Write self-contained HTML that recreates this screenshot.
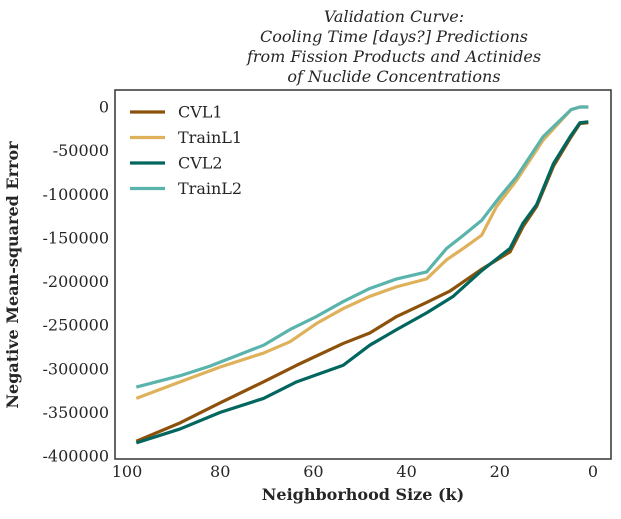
<!DOCTYPE html>
<html><head><meta charset="utf-8"><style>
body{margin:0;background:#fff}
svg text{font-family:"DejaVu Serif","Liberation Serif",serif;fill:#262626}
</style></head><body>
<svg id="chart" width="621" height="514" xmlns="http://www.w3.org/2000/svg">
<g font-style="italic" font-size="16" text-anchor="middle">
<text x="394" y="22">Validation Curve:</text>
<text x="394" y="42">Cooling Time [days?] Predictions</text>
<text x="394" y="62">from Fission Products and Actinides</text>
<text x="394" y="82">of Nuclide Concentrations</text>
</g>
<g id="series"></g>
<rect x="115" y="90" width="496" height="369" fill="none" stroke="#333" stroke-width="1.5"/>
<g id="ticks" font-size="16"></g>
<text x="363" y="500" text-anchor="middle" font-size="16" font-weight="bold">Neighborhood Size (k)</text>
<text transform="translate(18,275) rotate(-90)" text-anchor="middle" font-size="16" font-weight="bold">Negative Mean-squared Error</text>
<g id="legend" font-size="16"></g>
</svg>
<script>
const xTicks=[100,80,60,40,20,0];
const yTicks=[0,-50000,-100000,-150000,-200000,-250000,-300000,-350000,-400000];
const seriesNames=["CVL1","TrainL1","CVL2","TrainL2"];
const seriesColors=["#8c510a","#dfb15b","#01665e","#5ab4ac"];
const kCVL1=[98,88.6,80,70.7,63.6,53.6,47.9,42.1,35.7,30.7,24.2,17.8,15,12.1,8.5,4.9,2.8,1];
const vCVL1=[-383000,-362000,-339000,-315000,-296000,-271000,-259000,-240000,-224000,-211000,-187000,-166000,-137000,-114000,-68000,-36000,-19000,-18000];
const kTrainL1=[98,88.6,80,70.7,65,59.3,53.6,47.9,42.1,35.7,31.4,27.8,23.9,20.7,16.4,10.7,4.7,2.8,1];
const vTrainL1=[-334000,-315000,-298000,-282000,-269000,-248000,-231000,-217000,-206000,-197000,-175000,-162000,-147000,-114000,-84000,-38000,-3000,0,0];
const kCVL2=[98,88.6,80,70.7,63.6,53.6,47.9,42.1,35.7,30,24.2,17.8,15,12.1,8.5,4.9,2.8,1];
const vCVL2=[-385000,-369000,-350000,-334000,-315000,-296000,-273000,-255000,-236000,-217000,-189000,-162000,-133000,-112000,-65000,-34000,-18000,-17000];
const kTrainL2=[98,88.6,82.2,70.7,65,59.3,53.6,47.9,42.1,35.7,31.4,27.8,23.9,20,16.4,10.7,4.7,2.8,1];
const vTrainL2=[-321000,-308000,-297000,-273000,-255000,-240000,-223000,-208000,-197000,-189000,-162000,-147000,-130000,-103000,-80000,-34000,-3000,0,0];
const allK=[kCVL1,kTrainL1,kCVL2,kTrainL2];
const allV=[vCVL1,vTrainL1,vCVL2,vTrainL2];
const NS="http://www.w3.org/2000/svg";
function xs(k){return 593-k*4.66;}
function ys(v){return 107-v*0.0008725;}
const ticks=document.getElementById('ticks');
xTicks.forEach(t=>{
  const el=document.createElementNS(NS,'text');
  
  
  el.setAttribute('x',xs(t));el.setAttribute('y',477);el.setAttribute('text-anchor','middle');
  el.textContent=t;ticks.appendChild(el);
});
yTicks.forEach(t=>{
  const el=document.createElementNS(NS,'text');
  
  
  el.setAttribute('x',109);el.setAttribute('y',ys(t)+5.5);el.setAttribute('text-anchor','end');
  el.textContent=t;ticks.appendChild(el);
});
const sg=document.getElementById('series');
seriesNames.forEach((n,i)=>{
  const p=document.createElementNS(NS,'polyline');
  
  
  p.setAttribute('points',allK[i].map((k,j)=>xs(k)+','+ys(allV[i][j])).join(' '));
  p.setAttribute('fill','none');p.setAttribute('stroke',seriesColors[i]);p.setAttribute('stroke-width','3.2');
  p.setAttribute('stroke-linejoin','round');
  sg.appendChild(p);
});
const lg=document.getElementById('legend');
seriesNames.forEach((n,i)=>{
  const y=112+i*25.5;
  const l=document.createElementNS(NS,'line');
  
  
  l.setAttribute('x1',130);l.setAttribute('x2',165);l.setAttribute('y1',y);l.setAttribute('y2',y);
  l.setAttribute('stroke',seriesColors[i]);l.setAttribute('stroke-width','3.2');lg.appendChild(l);
  const t=document.createElementNS(NS,'text');
  
  
  t.setAttribute('x',178);t.setAttribute('y',y+5.5);t.textContent=n;lg.appendChild(t);
});
</script>
</body></html>
